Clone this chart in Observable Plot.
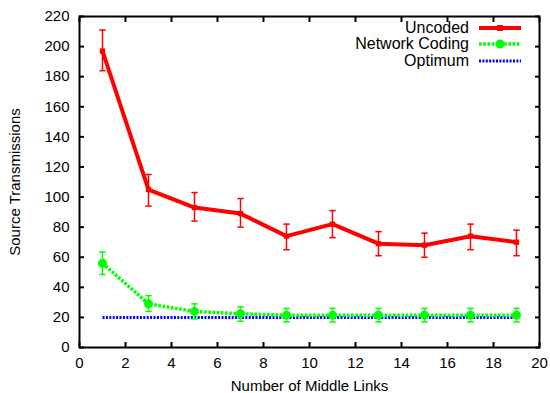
<!DOCTYPE html>
<html>
<head>
<meta charset="utf-8">
<script src="https://cdn.jsdelivr.net/npm/d3@7"></script>
<script src="https://cdn.jsdelivr.net/npm/@observablehq/plot@0.6"></script>
<style>
  body { margin: 0; background: #fff; }
  #wrap { position: relative; width: 550px; height: 393px; font-family: "Liberation Sans", Arial, sans-serif; }
  #wrap svg text { font-size: 15px; }
  #legend { position: absolute; top: 20px; right: 28px; font-size: 16px; color: #000; }
  #legend .row { display: flex; align-items: center; justify-content: flex-end; height: 16.3px; }
  #legend svg { margin-left: 9px; display: block; }
</style>
</head>
<body>
<div id="wrap"><div id="legend"></div></div>
<script>
const links = [1, 3, 5, 7, 9, 11, 13, 15, 17, 19];
const uncoded = [197, 105, 93, 89, 74, 82, 69, 68, 74, 70];
const uncodedLo = [184, 94, 84, 80, 65, 73, 61, 60, 65, 61];
const uncodedHi = [211, 115, 103, 99, 82, 91, 77, 76, 82, 78];
const netcoding = [56, 29, 24, 22.4, 21.5, 21.5, 21.5, 21.5, 21.5, 21.5];
const netLo = [48.5, 24, 19, 17.5, 17, 17, 17, 17, 17, 17];
const netHi = [63.5, 34.5, 29, 27, 26, 26, 26, 26, 26, 26];
const optimum = [20, 20, 20, 20, 20, 20, 20, 20, 20, 20];
const xTicks = [0, 2, 4, 6, 8, 10, 12, 14, 16, 18, 20];
const yTicks = [0, 20, 40, 60, 80, 100, 120, 140, 160, 180, 200, 220];
const seriesNames = ["Uncoded", "Network Coding", "Optimum"];

const unc = links.map((x, i) => ({x, y: uncoded[i], lo: uncodedLo[i], hi: uncodedHi[i]}));
const net = links.map((x, i) => ({x, y: netcoding[i], lo: netLo[i], hi: netHi[i]}));
const opt = links.map((x, i) => ({x, y: optimum[i]}));

const RED = "#ff0000", GREEN = "#00ff00", BLUE = "#0000ff";

const cap = {draw(ctx, size) { const w = Math.sqrt(size); ctx.moveTo(-w, 0); ctx.lineTo(w, 0); }};
const errCaps = (data, color) => [
  Plot.dot(data, {x: "x", y: "lo", symbol: cap, r: 1.8, stroke: color, fill: "none", strokeWidth: 1.5}),
  Plot.dot(data, {x: "x", y: "hi", symbol: cap, r: 1.8, stroke: color, fill: "none", strokeWidth: 1.5})
];
const blank = () => "";

const chart = Plot.plot({
  width: 550,
  height: 393,
  marginLeft: 79,
  marginRight: 11,
  marginTop: 16,
  marginBottom: 46,
  style: {fontFamily: "Liberation Sans, Arial, sans-serif", fontSize: "15px", color: "#000", background: "#fff"},
  x: {domain: [0, 20]},
  y: {domain: [0, 220]},
  marks: [
    Plot.ruleX(unc, {x: "x", y1: "lo", y2: "hi", stroke: RED, strokeWidth: 1.5}),
    ...errCaps(unc, RED),
    Plot.line(opt, {x: "x", y: "y", stroke: BLUE, strokeWidth: 3, strokeDasharray: "2,1.4", strokeLinecap: "butt"}),
    Plot.line(net, {x: "x", y: "y", stroke: GREEN, strokeWidth: 3.5, strokeDasharray: "2.6,1.6", strokeLinecap: "butt"}),
    Plot.line(unc, {x: "x", y: "y", stroke: RED, strokeWidth: 4}),
    Plot.ruleX(net, {x: "x", y1: "lo", y2: "hi", stroke: GREEN, strokeWidth: 1.5}),
    ...errCaps(net, GREEN),
    Plot.dot(net, {x: "x", y: "y", r: 4.5, fill: GREEN}),
    Plot.dot(unc, {x: "x", y: "y", r: 3, fill: RED, symbol: "square"}),
    Plot.frame({stroke: "#000", strokeWidth: 2}),
    // tick labels + axis titles
    Plot.axisX({ticks: xTicks, tickSize: 0, tickPadding: 10, label: "Number of Middle Links", labelAnchor: "center", labelArrow: "none", labelOffset: 43}),
    Plot.axisY({ticks: yTicks, tickSize: 0, tickPadding: 10, label: "Source Transmissions", labelAnchor: "center", labelArrow: "none", labelOffset: 70}),
    // inward tick marks on all four sides
    Plot.axisX({ticks: xTicks, anchor: "bottom", tickSize: -5, tickFormat: blank, label: null, strokeWidth: 2}),
    Plot.axisX({ticks: xTicks, anchor: "top", tickSize: -5, tickFormat: blank, label: null, strokeWidth: 2}),
    Plot.axisY({ticks: yTicks, anchor: "left", tickSize: -5, tickFormat: blank, label: null, strokeWidth: 2}),
    Plot.axisY({ticks: yTicks, anchor: "right", tickSize: -5, tickFormat: blank, label: null, strokeWidth: 2})
  ]
});
document.getElementById("wrap").prepend(chart);

// legend
const legendStyles = [
  {color: RED, width: 4, dash: null, marker: "square"},
  {color: GREEN, width: 3.5, dash: "2.6,1.6", marker: "circle"},
  {color: BLUE, width: 3, dash: "2,1.4", marker: null}
];
const legend = d3.select("#legend");
seriesNames.forEach((name, i) => {
  const s = legendStyles[i];
  const row = legend.append("div").attr("class", "row");
  row.append("span").text(name);
  const svg = row.append("svg").attr("width", 44).attr("height", 12);
  svg.append("line").attr("x1", 1).attr("x2", 43).attr("y1", 6).attr("y2", 6)
    .attr("stroke", s.color).attr("stroke-width", s.width).attr("stroke-dasharray", s.dash);
  if (s.marker === "square") svg.append("rect").attr("x", 19).attr("y", 3).attr("width", 6).attr("height", 6).attr("fill", s.color);
  if (s.marker === "circle") svg.append("circle").attr("cx", 22).attr("cy", 6).attr("r", 4.5).attr("fill", s.color);
});
</script>
</body>
</html>
